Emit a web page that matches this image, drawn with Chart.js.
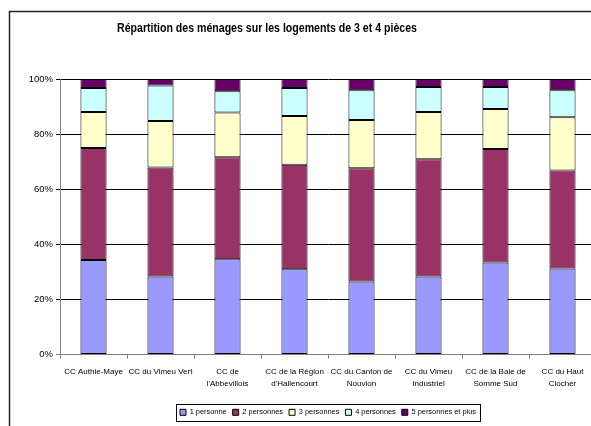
<!DOCTYPE html>
<html>
<head>
<meta charset="utf-8">
<script src="https://cdn.jsdelivr.net/npm/chart.js@4.4.0/dist/chart.umd.min.js"></script>
<style>
  body { margin: 0; overflow: hidden; background: #fff; }
  #wrap { width: 600px; height: 426px; position: relative; }
</style>
</head>
<body>
<div id="wrap"><canvas id="chart"></canvas></div>
<script>
const categories = [
  ["CC Authie-Maye"],
  ["CC du Vimeu Vert"],
  ["CC de", "l'Abbevillois"],
  ["CC de la Région", "d'Hallencourt"],
  ["CC du Canton de", "Nouvion"],
  ["CC du Vimeu", "Industriel"],
  ["CC de la Baie de", "Somme Sud"],
  ["CC du Haut", "Clocher"]
];
const seriesNames = ["1 personne", "2 personnes", "3 personnes", "4 personnes", "5 personnes et plus"];
const onePerson   = [34.3, 28.3, 34.6, 31.0, 26.5, 28.3, 33.4, 31.2];
const twoPersons  = [40.7, 39.6, 37.0, 37.9, 41.1, 42.6, 41.2, 35.6];
const threePersons = [13.0, 16.9, 16.2, 17.7, 17.5, 17.1, 14.5, 19.3];
const fourPersons = [8.7, 12.8, 7.8, 10.1, 10.8, 9.1, 8.0, 9.8];
const fivePlus    = [3.3, 2.4, 4.4, 3.3, 4.1, 2.9, 2.9, 4.1];
const yTicks = [0, 20, 40, 60, 80, 100];

const colors = ["#9999FF", "#993366", "#FFFFCC", "#CCFFFF", "#660066"];
const values = [onePerson, twoPersons, threePersons, fourPersons, fivePlus];
const font = "'Liberation Sans', Arial, sans-serif";

// the reference uses a narrow face; use Liberation Sans Narrow when it is there
const probe = document.createElement("canvas").getContext("2d");
probe.font = "20px 'Liberation Sans Narrow', monospace";
const wNarrow = probe.measureText("CC Authie-Maye").width;
probe.font = "20px monospace";
const hasNarrow = Math.abs(wNarrow - probe.measureText("CC Authie-Maye").width) > 1;
const narrow = hasNarrow ? "'Liberation Sans Narrow', " + font : font;
const catSize = hasNarrow ? 9.5 : 8;
const legSize = hasNarrow ? 8.7 : 7.4;

// frame, title and legend box are drawn by hand
const extras = {
  id: "extras",
  afterDraw(chart) {
    const c = chart.ctx;
    c.save();
    c.strokeStyle = "#222";
    c.lineWidth = 1.5;
    c.strokeRect(9.5, 11.5, chart.width + 20, chart.height + 20);

    c.fillStyle = "#000";
    c.font = "bold 13px " + font;
    c.textAlign = "center";
    c.textBaseline = "middle";
    const title = "Répartition des ménages sur les logements de 3 et 4 pièces";
    const w = c.measureText(title).width;
    c.translate(267, 28);
    c.scale(300 / w, 1);
    c.fillText(title, 0, 0);
    c.restore();

    const boxes = chart.legend.legendHitBoxes;
    if (boxes && boxes.length) {
      let minX = Infinity, maxX = -Infinity, minY = Infinity, maxY = -Infinity;
      boxes.forEach(b => {
        minX = Math.min(minX, b.left);
        maxX = Math.max(maxX, b.left + b.width);
        minY = Math.min(minY, b.top);
        maxY = Math.max(maxY, b.top + b.height);
      });
      c.save();
      c.strokeStyle = "#000";
      c.lineWidth = 1;
      c.strokeRect(Math.round(minX - 4) + 0.5, Math.round(minY - 5) + 0.5,
        Math.round(maxX - minX + 8), Math.round(maxY - minY + 10));
      c.restore();
    }
  }
};

new Chart(document.getElementById("chart"), {
  type: "bar",
  data: {
    labels: categories,
    datasets: values.map((v, i) => ({
      label: seriesNames[i],
      data: v,
      backgroundColor: colors[i],
      borderColor: "#000",
      borderWidth: 1,
      borderSkipped: false,
      categoryPercentage: 1,
      barPercentage: 0.39
    }))
  },
  options: {
    responsive: true,
    maintainAspectRatio: false,
    animation: false,
    devicePixelRatio: 1,
    layout: { padding: { top: 79, right: 4, bottom: 0, left: 0 } },
    plugins: {
      title: { display: false },
      tooltip: { enabled: false },
      legend: {
        position: "bottom",
        fullSize: false,
        labels: {
          boxWidth: 6,
          boxHeight: 6,
          padding: 6,
          color: "#000",
          font: { family: narrow, size: legSize }
        }
      }
    },
    scales: {
      x: {
        stacked: true,
        offset: true,
        afterFit: s => { s.height = 48; },
        grid: {
          offset: true,
          drawOnChartArea: false,
          drawTicks: true,
          tickLength: 4,
          color: "#808080"
        },
        border: { color: "#808080", width: 1 },
        ticks: {
          color: "#000",
          padding: 7,
          maxRotation: 0,
          autoSkip: false,
          font: { family: narrow, size: catSize, lineHeight: 1.55 }
        }
      },
      y: {
        stacked: true,
        min: 0,
        max: 100,
        afterFit: s => { s.width = 60; },
        afterBuildTicks: s => { s.ticks = yTicks.map(v => ({ value: v })); },
        grid: {
          color: ctx => (ctx.tick && ctx.tick.value === 0 ? "#808080" : "#000"),
          tickLength: 4,
          lineWidth: 1
        },
        border: { color: "#808080", width: 1 },
        ticks: {
          color: "#000",
          padding: 3,
          font: { family: font, size: 9.5 },
          callback: v => v + "%"
        }
      }
    }
  },
  plugins: [extras]
});
</script>
</body>
</html>
